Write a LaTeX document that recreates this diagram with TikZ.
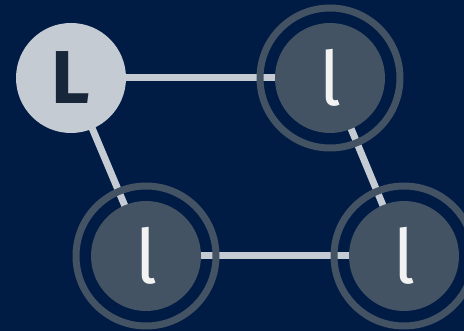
\documentclass[tikz,border=0pt]{standalone}
\usepackage{fontspec}
\setmainfont{Fira Sans}
\newfontfamily\boldfira{Fira Sans Bold}
\definecolor{bgnavy}{HTML}{001C45}
\definecolor{lightnode}{HTML}{C5CBD3}
\definecolor{darknode}{HTML}{435364}
\definecolor{letterdark}{HTML}{18263A}
\definecolor{letterlight}{HTML}{F2F2F2}
\begin{document}
\begin{tikzpicture}[x=1pt,y=-1pt,
  leader/.style={circle,fill=lightnode,minimum size=110pt,inner sep=0pt,text=letterdark,font=\boldfira\fontsize{75}{75}\selectfont},
  member/.style={circle,fill=darknode,minimum size=110pt,inner sep=0pt,text=letterlight,font=\fontsize{75}{75}\selectfont},
  ring/.style={draw=darknode,line width=7pt},
  link/.style={draw=lightnode,line width=7pt}]
\fill[bgnavy] (0,0) rectangle (464,331);
\useasboundingbox (0,0) rectangle (464,331);
\coordinate (cL) at (71,78);
\coordinate (cTR) at (330,78);
\coordinate (cBL) at (146,256);
\coordinate (cBR) at (404,256);
\draw[link] (cL) -- (cTR);
\draw[link] (cL) -- (cBL);
\draw[link] (cTR) -- (cBR);
\draw[link] (cBL) -- (cBR);
\draw[ring] (cTR) circle[radius=70];
\draw[ring] (cBL) circle[radius=70];
\draw[ring] (cBR) circle[radius=70];
\node[leader] (L) at (cL) {L};
\node[member] (TR) at (cTR) {l};
\node[member] (BL) at (cBL) {l};
\node[member] (BR) at (cBR) {l};
\end{tikzpicture}
\end{document}
